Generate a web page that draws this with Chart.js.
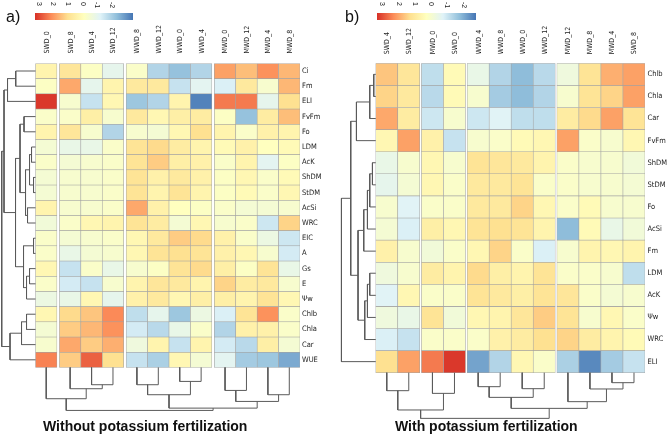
<!DOCTYPE html>
<html><head><meta charset="utf-8">
<script src="https://cdn.jsdelivr.net/npm/chart.js@4.4.0/dist/chart.umd.min.js"></script>
<style>
html,body{margin:0;padding:0;background:#fff;}
#wrap{position:relative;width:669px;height:437px;overflow:hidden;font-family:'Liberation Sans',Arial,sans-serif;}
.cv{position:absolute;top:0;}
.pl{position:absolute;font-size:16px;line-height:16px;color:#111;}
.bar{position:absolute;height:7px;background:linear-gradient(to right,#D73027 0%,#FC8D59 16.7%,#FEE090 33.3%,#FFFFBF 50%,#E0F3F8 66.7%,#91BFDB 83.3%,#4575B4 100%);}
.lt{position:absolute;top:2px;font-size:7px;line-height:7px;white-space:nowrap;transform-origin:0 0;transform:rotate(90deg);color:#222;}
.ttl{position:absolute;top:418px;font-weight:bold;font-size:14px;line-height:16px;white-space:nowrap;color:#111;}
</style></head><body>
<div id="wrap">
  <div class="cv" style="left:0;width:334px;height:437px"><canvas id="ca" width="334" height="437"></canvas></div>
  <div class="cv" style="left:334px;width:335px;height:437px"><canvas id="cb" width="335" height="437"></canvas></div>
  <div class="pl" style="left:6px;top:9px">a)</div>
  <div class="pl" style="left:345px;top:9px">b)</div>
  <div class="bar" style="left:35px;top:13px;width:98px"></div>
  <div class="bar" style="left:377px;top:13px;width:99px"></div>
  <div class="ttl" style="left:43px">Without potassium fertilization</div>
  <div class="ttl" style="left:395px">With potassium fertilization</div>
</div>
<script>
// ---------- legend ----------
const legendTicks = ['3','2','1','0','-1','-2'];

// ---------- panel a ----------
const colsA = ['SWD_0','SWD_8','SWD_4','SWD_12','WWD_8','WWD_12','WWD_0','WWD_4','MWD_0','MWD_12','MWD_4','MWD_8'];
const groupsA = [0,1,1,1,2,2,2,2,3,3,3,3];
const rowsA = ['Ci','Fm','ELI','FvFm','Fo','LDM','AcK','ShDM','StDM','AcSi','WRC','EIC','A','Gs','E','Ψw','Chlb','Chla','Car','WUE'];
const valsA = [
  [ 0.4, 0.9,-0.1,-0.9,-0.2,-1.8,-2.2,-1.8, 2.0, 1.6, 2.2, 1.7],
  [-0.1, 1.9,-0.9, 0.4, 0.8, 0.8,-1.5,-1.0,-1.2, 0.8,-0.3, 1.7],
  [ 3.3,-0.3,-1.5, 0.3,-2.1,-1.8, 0.4,-3.2, 2.5, 2.5,-0.9, 1.1],
  [-0.2,-0.2, 0.6,-0.3, 0.8, 0.3, 0.6, 0.7,-0.1,-2.2, 0.7, 1.6],
  [ 0.4, 0.9,-0.3,-1.8,-0.3,-0.4, 0.3, 1.1, 0.4,-0.2, 0.5, 0.4],
  [-0.4,-0.8,-0.8,-0.2, 1.0, 1.2, 0.7, 0.4, 0.2, 0.5, 0.0, 0.2],
  [-0.2,-0.4,-0.3,-0.2, 1.0, 1.4, 0.6, 0.5,-0.2, 0.4,-1.0,-0.1],
  [-0.4,-0.3,-0.3,-0.2, 1.0, 0.5, 0.8, 0.5,-0.1, 0.3,-0.2, 0.2],
  [-0.4,-0.3,-0.3,-0.2, 1.0, 0.4, 1.0, 0.4,-0.1, 0.2,-0.2, 0.3],
  [ 0.4,-0.3,-0.3,-0.2, 1.9, 0.5, 0.0,-0.1,-0.2,-0.4,-0.4,-0.3],
  [-0.5,-0.2, 0.3, 0.4, 1.0, 0.7,-0.4, 0.3,-0.3,-0.2,-1.4, 1.3],
  [-0.2,-0.4,-0.3,-0.2, 0.3, 0.8, 1.4, 1.2, 0.5,-0.2,-0.7,-1.4],
  [-0.2,-0.8,-0.4,-0.3, 0.3, 1.0, 1.1, 1.0, 0.5, 0.3,-0.3,-1.3],
  [ 0.3,-1.5,-0.2,-0.8,-0.3,-0.1, 1.0, 1.2, 0.6,-0.1, 1.0,-0.8],
  [-0.2,-1.3,-1.5,-0.3, 0.4, 0.9, 0.8, 0.4, 1.3, 0.7, 0.8,-0.3],
  [-0.7,-0.8, 0.3,-0.9, 0.5, 0.8, 0.3, 0.6, 0.6, 0.4, 1.0, 0.3],
  [ 0.3, 1.2, 1.5, 2.3,-1.6,-0.9,-2.1,-0.7,-1.2, 1.0, 2.2,-0.2],
  [-0.4, 1.4, 1.7, 2.2,-1.3,-1.7,-0.8,-0.2,-1.8, 0.5, 0.5,-0.2],
  [-0.3, 1.9, 1.4, 1.8,-0.6, 0.4,-1.5, 0.4,-1.3,-1.7, 0.6,-0.4],
  [ 2.4, 1.4, 2.8, 1.1,-1.5,-1.9, 0.3,-0.4,-1.0,-2.0,-2.1,-2.6]
];
// dendrograms: [left, right, mergeHeight]; leaves are row / column indices
const rowTreeA = [[[[0,1,19.8],2,28],[[[3,4,11.5],[[[5,6,4],[7,8,2],6],[9,10,8],10],15.5],[[11,12,2],[[13,14,6],15,9],12],20],31.5],[[[16,17,9],18,14],19,25.5],33.8];
const colTreeA = [[0,[1,[2,3,17.3],21.3],31.3],[[[4,5,17.3],[6,7,14],27.3],[[8,9,23],[10,11,27.3],34],40.7],43];

// ---------- panel b ----------
const colsB = ['SWD_4','SWD_12','MWD_0','SWD_0','WWD_4','WWD_8','WWD_0','WWD_12','MWD_12','MWD_8','MWD_4','SWD_8'];
const groupsB = [0,0,1,1,2,2,2,2,3,3,3,3];
const rowsB = ['Chlb','Chla','Car','FvFm','ShDM','StDM','Fo','AcSi','Fm','LDM','AcK','Ψw','WRC','ELI'];
const valsB = [
  [ 1.5, 0.9,-1.6, 0.2,-0.8,-1.8,-2.3,-1.7,-0.6, 1.0, 1.8, 2.0],
  [ 1.3, 0.8,-1.7, 0.2,-0.3,-2.0,-2.3,-1.8,-0.3, 1.0, 1.3, 2.0],
  [ 1.9, 0.7,-1.4,-0.3,-1.4,-1.1,-1.6,-1.6, 0.7, 1.2, 2.0, 1.0],
  [ 0.3, 2.0, 0.5,-1.5,-0.3,-0.2, 0.2, 0.3, 2.0,-0.2,-0.3, 0.3],
  [-0.8,-0.3, 0.3,-0.3, 1.0, 0.9, 0.8, 0.4,-0.2,-0.3,-0.3,-0.5],
  [-0.9,-0.4, 0.3,-0.2, 0.8, 0.8, 1.0,-0.2,-0.2,-0.3,-0.3,-0.4],
  [-0.3,-1.1,-0.2,-0.2, 0.8, 0.8, 1.3, 0.3,-0.2, 0.2,-0.3,-0.3],
  [-0.4,-1.2, 0.6, 0.3, 1.0, 1.1, 1.0, 0.4,-2.3, 0.2,-0.8,-0.5],
  [ 0.5,-0.3,-0.5,-0.2, 0.3, 1.3,-0.2,-1.2,-0.3, 0.4, 0.3, 0.4],
  [-0.6,-0.3, 0.7, 0.4, 1.2, 0.6, 0.4, 1.0,-0.2,-0.2,-0.3,-1.6],
  [-1.1, 0.3,-0.2,-0.2, 1.0, 0.8, 0.6, 1.0, 0.9,-0.2,-0.4,-0.3],
  [-0.6,-0.8, 1.0,-0.5, 0.3, 0.4, 0.9, 1.4, 1.0,-0.3, 0.3,-0.2],
  [-1.2,-1.5,-0.2,-0.2,-0.2, 0.5, 0.7, 1.1, 1.3, 0.7, 0.4, 0.2],
  [ 1.1, 2.0, 2.5, 3.3,-2.7,-1.8, 0.3,-0.2,-1.9,-3.1,-2.0,-1.5]
];
const rowTreeB = [[[[[0,1,2],2,6],3,19.3],[[[[[4,5,3.3],6,6],7,8.3],8,12],[[[9,10,6],11,8.3],12,11],17.7],25],13,34.3];
const colTreeB = [[[0,1,18],[2,3,20.7],37.3],[[[4,5,14],[6,7,16],24.7],[8,[9,[10,11,10],16.3],29],35.7],45.7];

// ---------- colour scale (RdYlBu) ----------
const palette = ['#4575B4','#91BFDB','#E0F3F8','#FFFFBF','#FEE090','#FC8D59','#D73027'];
const vMin = -3.4, vMax = 3.4;
function hex2rgb(h){return [parseInt(h.substr(1,2),16),parseInt(h.substr(3,2),16),parseInt(h.substr(5,2),16)];}
function colorFor(v){
  let t = (v - vMin) / (vMax - vMin); t = Math.max(0, Math.min(1, t));
  const f = t * (palette.length - 1); const i = Math.min(palette.length - 2, Math.floor(f)); const u = f - i;
  const a = hex2rgb(palette[i]), b = hex2rgb(palette[i+1]);
  return 'rgb(' + a.map((c,k)=>Math.round(c + (b[k]-c)*u)).join(',') + ')';
}

// legend tick labels (html text)
function addLegend(left, step){
  const wrap = document.getElementById('wrap');
  legendTicks.forEach((t,i)=>{
    const s = document.createElement('div'); s.className='lt'; s.textContent=t;
    s.style.left = (left + i*step + 3.5) + 'px'; wrap.appendChild(s);
  });
}
addLegend(39.3, 14.6);
addLegend(382.7, 16.3);

function drawTree(node, leafPos, toXY, out){
  if (typeof node === 'number') return {pos: leafPos(node), h: 0};
  const a = drawTree(node[0], leafPos, toXY, out), b = drawTree(node[1], leafPos, toXY, out);
  const H = node[2];
  const p4 = toXY(b.pos, b.h);
  out.push(toXY(a.pos, a.h), toXY(a.pos, H), toXY(b.pos, H), p4, {x: p4.x, y: null});
  return {pos: (a.pos + b.pos) / 2, h: H};
}

const fam = "'Liberation Sans Narrow','DejaVu Sans Condensed','Liberation Sans',sans-serif";
const colFont = {family: fam, size: 7};
const rowFont = {family: fam, size: 7.5};

function makePanel(id, p){
  const colPos = p.groups.map((g, j) => j + 0.5 + g * p.gap);
  const datasets = [];
  p.rows.forEach((r, i) => {
    datasets.push({
      type: 'bar', label: r,
      data: p.cols.map((c, j) => ({x: colPos[j], y: [i, i + 1]})),
      backgroundColor: p.vals[i].map(colorFor),
      borderColor: '#a3a3a3', borderWidth: 0.6, borderSkipped: false,
      grouped: false, barPercentage: 1, categoryPercentage: 1, order: 2
    });
  });
  const rowLine = [], colLine = [];
  drawTree(p.rowTree, leaf => leaf + 0.5, (pos, h) => ({x: -h / p.colPx, y: pos}), rowLine);
  drawTree(p.colTree, leaf => colPos[leaf], (pos, h) => ({x: pos, y: p.rows.length + h / p.rowPx}), colLine);
  [rowLine, colLine].forEach(d => datasets.push({
    type: 'line', data: d, borderColor: '#5a5a5a', borderWidth: 1, pointRadius: 0,
    spanGaps: false, tension: 0, fill: false, order: 1
  }));
  new Chart(document.getElementById(id), {
    type: 'bar',
    data: {datasets},
    options: {
      responsive: false, animation: false, events: [],
      layout: {padding: {left: 0, right: 0, top: 0, bottom: p.padB}},
      plugins: {legend: {display: false}, tooltip: {enabled: false}, title: {display: false}},
      scales: {
        x: {
          type: 'linear', position: 'top', min: p.xmin, max: p.xmax, offset: false,
          grid: {display: false, drawTicks: false}, border: {display: false},
          afterBuildTicks: s => { s.ticks = colPos.map(v => ({value: v})); },
          afterFit: s => { s.height = p.topH; },
          ticks: {autoSkip: false, minRotation: 90, maxRotation: 90, padding: p.colPad, labelOffset: 9,
                  font: colFont, color: '#222', callback: (v, i) => p.cols[i]}
        },
        y: {
          type: 'linear', position: 'right', reverse: true, min: 0, max: p.rows.length + p.yext,
          grid: {display: false, drawTicks: false}, border: {display: false},
          afterBuildTicks: s => { s.ticks = p.rows.map((r, i) => ({value: i + 0.5})); },
          afterFit: s => { s.width = p.rightW; },
          ticks: {autoSkip: false, padding: p.rowPad, font: rowFont, color: '#222',
                  callback: (v, i) => p.rows[i]}
        }
      }
    }
  });
}

makePanel('ca', {cols: colsA, groups: groupsA, rows: rowsA, vals: valsA, rowTree: rowTreeA, colTree: colTreeA,
  gap: 0.117, colPx: 21.41, rowPx: 15.2, xmin: -1.659, xmax: 12.351, topH: 63.4, rightW: 34, padB: 22, yext: 3.13, colPad: 10, rowPad: 2});
makePanel('cb', {cols: colsB, groups: groupsB, rows: rowsB, vals: valsB, rowTree: rowTreeB, colTree: colTreeB,
  gap: 0.075, colPx: 22.03, rowPx: 22.1, xmin: -1.895, xmax: 12.225, topH: 63.3, rightW: 24, padB: 13.5, yext: 2.3, colPad: 9, rowPad: 2.5});
</script>
</body></html>
